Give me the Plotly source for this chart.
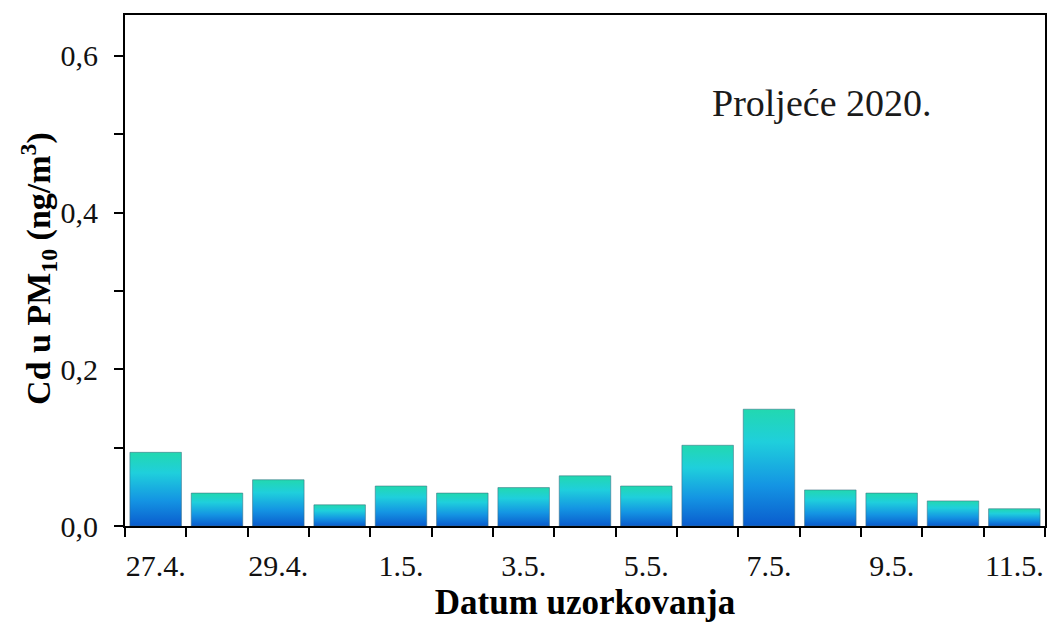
import plotly.graph_objects as go

# Sampling dates (spring 2020) and Cd concentration in PM10, ng/m3
dates = ["27.4.", "28.4.", "29.4.", "30.4.", "1.5.", "2.5.", "3.5.", "4.5.",
         "5.5.", "6.5.", "7.5.", "8.5.", "9.5.", "10.5.", "11.5."]
cd_values = [0.094, 0.042, 0.059, 0.027, 0.051, 0.042, 0.049, 0.064,
             0.051, 0.103, 0.149, 0.046, 0.042, 0.032, 0.022]
label_every = 2

SERIF = "Liberation Serif, Times New Roman, serif"
BAR_WIDTH = 0.84
GRADIENT = [[0.0, "#0a5cce"], [0.35, "#1495e3"], [0.72, "#1fcfdc"], [1.0, "#22d8b0"]]

fig = go.Figure()

# Each bar is a filled rectangle with a vertical blue-to-teal gradient
for i, (day, val) in enumerate(zip(dates, cd_values)):
    x0, x1 = i - BAR_WIDTH / 2, i + BAR_WIDTH / 2
    fig.add_trace(go.Scatter(
        x=[x0, x0, x1, x1, x0],
        y=[0, val, val, 0, 0],
        mode="lines",
        fill="toself",
        fillgradient=dict(type="vertical", colorscale=GRADIENT),
        line=dict(color="rgba(60,110,130,0.55)", width=1),
        name=day,
        hovertemplate=f"{day}: {val:.3f}<extra></extra>",
        showlegend=False,
    ))

tick_idx = list(range(0, len(dates), label_every))

fig.update_layout(
    width=1051, height=631,
    margin=dict(l=125, r=4, t=15, b=105),
    paper_bgcolor="white", plot_bgcolor="white",
    separators=", ",
    font=dict(family=SERIF, color="black", size=30),
    xaxis=dict(
        range=[-0.5, len(dates) - 0.5],
        tickmode="array", tickvals=tick_idx,
        ticktext=[dates[i] for i in tick_idx],
        ticks="outside", ticklen=8, tickcolor="rgba(0,0,0,0)",
        ticklabelstandoff=4,
        minor=dict(tickmode="linear", tick0=0.5, dtick=1, ticks="outside",
                   ticklen=9, tickwidth=2, tickcolor="black"),
        showline=True, linecolor="black", linewidth=2, mirror=True,
        showgrid=False, zeroline=False,
        tickfont=dict(size=30, color="#111"),
        title=dict(text="<b>Datum uzorkovanja</b>", font=dict(size=35), standoff=8),
    ),
    yaxis=dict(
        range=[0, 0.652],
        tickmode="array", tickvals=[0, 0.2, 0.4, 0.6], tickformat=".1f",
        ticks="outside", ticklen=9, tickwidth=2, tickcolor="black",
        ticklabelstandoff=10,
        minor=dict(tickmode="array", tickvals=[0.1, 0.3, 0.5], ticks="outside",
                   ticklen=9, tickwidth=2, tickcolor="black"),
        showline=True, linecolor="black", linewidth=2, mirror=True,
        showgrid=False, zeroline=False,
        tickfont=dict(size=30, color="#111"),
    ),
    annotations=[
        dict(
            text="<b>Cd u PM<sub>10</sub> (ng/m<sup>3</sup>)</b>",
            xref="paper", yref="paper", x=-0.0935, y=0.505,
            xanchor="center", yanchor="middle", textangle=-90,
            showarrow=False, font=dict(family=SERIF, size=34, color="black"),
        ),
        dict(
            text="Proljeće 2020.", xref="paper", yref="paper",
            x=0.879, y=0.828, xanchor="right", yanchor="middle",
            showarrow=False, font=dict(family=SERIF, size=38, color="#1a1a1a"),
        ),
    ],
)

fig.write_html("out.html")
